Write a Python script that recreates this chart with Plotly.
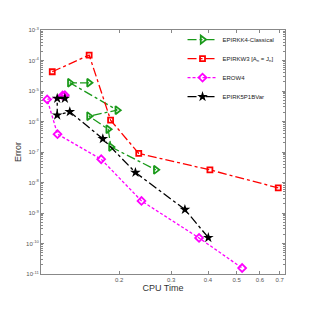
import plotly.graph_objects as go

# EPIRKK4-Classical
green_x = [0.158, 0.136, 0.197, 0.158, 0.1835, 0.1875, 0.266]
green_y = [1.86e-5, 1.86e-5, 2.36e-6, 1.50e-6, 5.6e-7, 1.47e-7, 2.6e-8]
# EPIRKW3 [A_n = J_n]
red_x = [0.1186, 0.1582, 0.187, 0.233, 0.406, 0.692]
red_y = [4.28e-5, 1.51e-4, 1.11e-6, 8.95e-8, 2.59e-8, 6.65e-9]
# EROW4
mag_x = [0.1309, 0.1286, 0.114, 0.1236, 0.1738, 0.238, 0.373, 0.522]
mag_y = [7.3e-6, 7.1e-6, 5.3e-6, 3.85e-7, 5.8e-8, 2.49e-9, 1.52e-10, 1.57e-11]
# EPIRK5P1BVar
blk_x = [0.1309, 0.1233, 0.1233, 0.136, 0.176, 0.227, 0.334, 0.401]
blk_y = [5.7e-6, 5.7e-6, 1.62e-6, 2.08e-6, 2.70e-7, 2.13e-8, 1.30e-9, 1.56e-10]

x_ticks = [0.2, 0.3, 0.4, 0.5, 0.6, 0.7]
x_ticktext = ["0.2", "0.3", "0.4", "0.5", "0.6", "0.7"]
y_exps = [-11, -10, -9, -8, -7, -6, -5, -4, -3]

fig = go.Figure()
fig.add_trace(go.Scatter(x=green_x, y=green_y, name="EPIRKK4-Classical", mode="lines+markers",
                         line=dict(color="#1a9a1a", width=1.3, dash="dashdot"),
                         marker=dict(symbol="triangle-right-open", size=7, color="#1a9a1a", line=dict(width=1.8))))
fig.add_trace(go.Scatter(x=red_x, y=red_y, name="EPIRKW3 [A<sub>n</sub> = J<sub>n</sub>]", mode="lines+markers",
                         line=dict(color="#ff0000", width=1.3, dash="dashdot"),
                         marker=dict(symbol="square-open", size=5, color="#ff0000", line=dict(width=1.8))))
fig.add_trace(go.Scatter(x=mag_x, y=mag_y, name="EROW4", mode="lines+markers",
                         line=dict(color="#ff00ff", width=1.3, dash="3px,2px"),
                         marker=dict(symbol="diamond-open", size=6, color="#ff00ff", line=dict(width=1.8))))
fig.add_trace(go.Scatter(x=blk_x, y=blk_y, name="EPIRK5P1BVar", mode="lines+markers",
                         line=dict(color="#000000", width=1.3, dash="dashdot"),
                         marker=dict(symbol="star", size=8, color="#000000")))

axis_common = dict(showline=True, linecolor="#888888", linewidth=1, mirror="ticks",
                   ticks="inside", ticklen=3, tickcolor="#888888", showgrid=False, zeroline=False,
                   automargin=False,
                   tickfont=dict(family="Liberation Sans", size=6, color="#555555"))

fig.update_xaxes(type="log", range=[-0.964, -0.137], tickvals=x_ticks, ticktext=x_ticktext,
                 title=dict(text="CPU Time", font=dict(family="Liberation Sans", size=9, color="#333333"), standoff=2),
                 minor=dict(ticks="inside", ticklen=2, tickcolor="#888888", dtick="D1"),
                 **axis_common)
fig.update_yaxes(type="log", range=[-11, -3], tickvals=[10.0 ** e for e in y_exps],
                 ticktext=["10<sup>%d</sup>" % e for e in y_exps],
                 title=dict(text="Error", font=dict(family="Liberation Sans", size=9, color="#333333"), standoff=2),
                 minor=dict(ticks="inside", ticklen=2, tickcolor="#888888", dtick="D1"),
                 **axis_common)

fig.update_layout(width=307, height=307, margin=dict(l=33, r=30, t=22, b=41),
                  paper_bgcolor="white", plot_bgcolor="white",
                  showlegend=True,
                  legend=dict(x=0.58, y=1.02, xanchor="left", yanchor="top", bgcolor="rgba(0,0,0,0)",
                              font=dict(family="Liberation Sans", size=6, color="#222222"),
                              itemwidth=30, tracegroupgap=0))
fig.write_html("out.html")
